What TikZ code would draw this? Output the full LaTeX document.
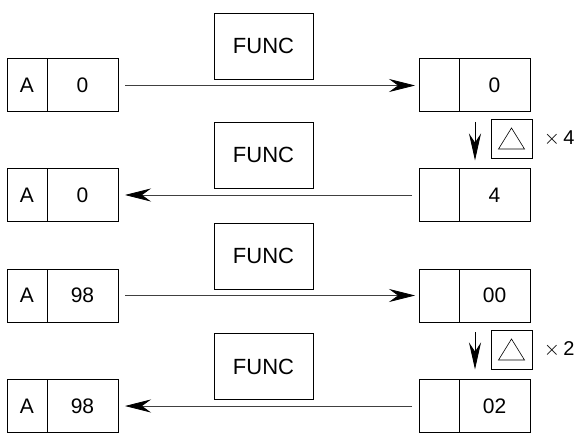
\documentclass[tikz,border=0pt]{standalone}
\usepackage{fontspec}
\setmainfont{Liberation Sans}
\usetikzlibrary{arrows.meta,positioning}

\begin{document}
\begin{tikzpicture}[x=1pt,y=-1pt,
    tagcell/.style={rectangle, draw, line width=1pt, outer sep=0pt, inner sep=0pt,
                minimum width=40pt, minimum height=53pt, font=\fontsize{21}{21}\selectfont},
    valcell/.style={tagcell, minimum width=71pt},
    funcbox/.style={rectangle, draw, line width=0.8pt, minimum width=99pt, minimum height=66pt,
                font=\fontsize{22}{22}\selectfont},
    markbox/.style={rectangle, draw, line width=0.8pt, minimum width=41pt, minimum height=39pt},
    arr/.style={-{Stealth[length=26pt, width=13pt, inset=9pt, color=black]}, line width=0.7pt, black!75},
    darr/.style={-{Stealth[length=27pt, width=12pt, inset=9pt]}, line width=0.9pt}
]
    \useasboundingbox (0,0) rectangle (576,433);

    % left records
    \node[valcell] (lv1) at (82.5,85.5) {0};
    \node[tagcell, left=0pt of lv1] (lt1) {A};
    \node[valcell] (lv2) at (82.5,195) {0};
    \node[tagcell, left=0pt of lv2] (lt2) {A};
    \node[valcell] (lv3) at (82.5,295.5) {98};
    \node[tagcell, left=0pt of lv3] (lt3) {A};
    \node[valcell] (lv4) at (82.5,406) {98};
    \node[tagcell, left=0pt of lv4] (lt4) {A};

    % right records
    \node[valcell] (rv1) at (494.5,85.5) {0};
    \node[tagcell, left=0pt of rv1] (rt1) {};
    \node[valcell] (rv2) at (494.5,195) {4};
    \node[tagcell, left=0pt of rv2] (rt2) {};
    \node[valcell] (rv3) at (494.5,295.5) {00};
    \node[tagcell, left=0pt of rv3] (rt3) {};
    \node[valcell] (rv4) at (494.5,406) {02};
    \node[tagcell, left=0pt of rv4] (rt4) {};

    % function boxes
    \node[funcbox] (f1) at (263.5,46) {FUNC};
    \node[funcbox] (f2) at (263.5,155) {FUNC};
    \node[funcbox] (f3) at (263.5,256) {FUNC};
    \node[funcbox] (f4) at (263.5,366.5) {FUNC};

    \draw[arr, shorten <=7pt, shorten >=4pt] (lv1.east) -- (rt1.west);
    \draw[arr, shorten <=7pt, shorten >=7pt] (rt2.west) -- (lv2.east);
    \draw[arr, shorten <=7pt, shorten >=4pt] (lv3.east) -- (rt3.west);
    \draw[arr, shorten <=7pt, shorten >=7pt] (rt4.west) -- (lv4.east);

    % repeat markers
    \node[markbox] (m1) at (511.5,138.5) {};
    \node[markbox] (m2) at (511.5,349.5) {};
    \foreach \m in {m1,m2}
        \draw[line width=0.6pt] ([shift={(-13,10.5)}]\m.center) -- ++(26,0) -- ++(-13,-21) -- cycle;
    \node[font=\fontsize{20}{20}\selectfont, right=8pt of m1] (n1) {$\times$\,4};
    \node[font=\fontsize{20}{20}\selectfont, right=8pt of m2] (n2) {$\times$\,2};

    \draw[darr] ([xshift=-19.5pt, yshift=-10pt]rv1.south) -- ([xshift=-19.5pt, yshift=8pt]rv2.north);
    \draw[darr] ([xshift=-19.5pt, yshift=-10pt]rv3.south) -- ([xshift=-19.5pt, yshift=10pt]rv4.north);
\end{tikzpicture}
\end{document}
